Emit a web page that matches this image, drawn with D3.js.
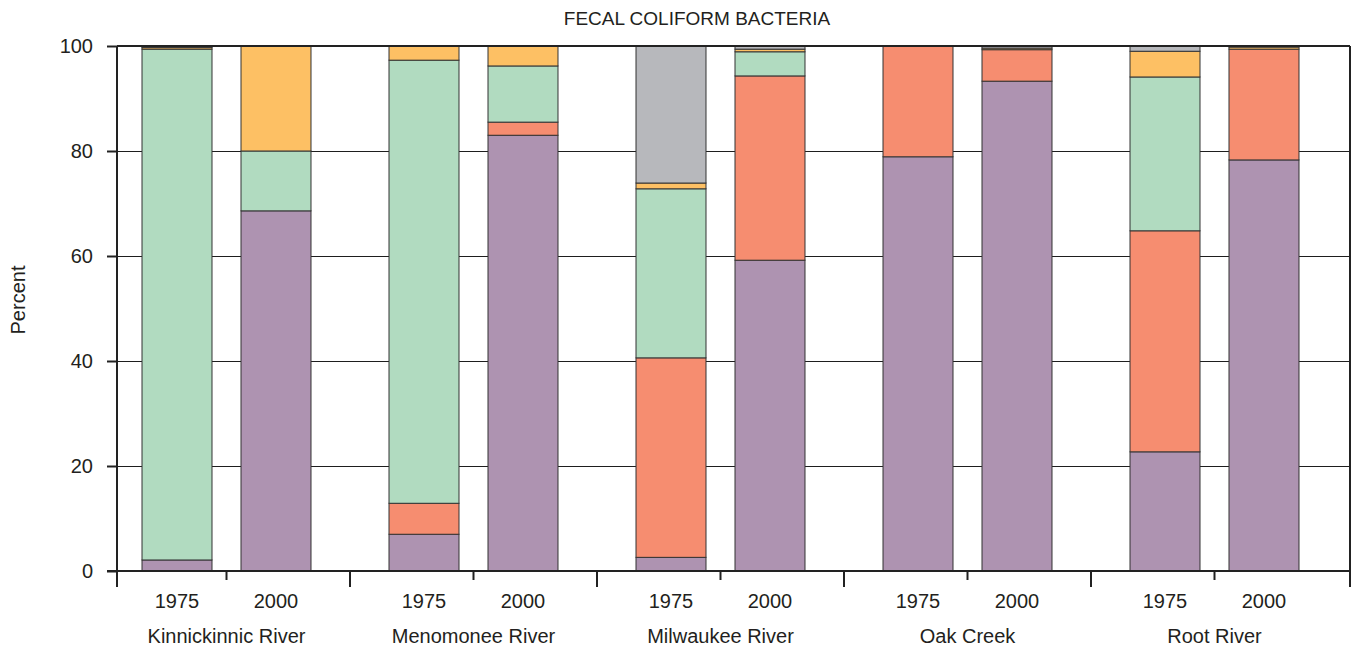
<!DOCTYPE html>
<html>
<head>
<meta charset="utf-8">
<script src="https://cdn.jsdelivr.net/npm/d3@7"></script>
<style>
  html, body { margin: 0; padding: 0; background: #fff; }
  svg { display: block; font-family: "Liberation Sans", Arial, sans-serif; }
</style>
</head>
<body>
<svg id="chart" width="1357" height="650"></svg>
<script>
// Fecal coliform bacteria: share of samples in each count class, by river and year
const rivers = ["Kinnickinnic River", "Menomonee River", "Milwaukee River", "Oak Creek", "Root River"];
const years = ["1975", "2000"];
const yTicks = [0, 20, 40, 60, 80, 100];

// Percent of samples per class, one value per river/year (river-major order)
const classLowest  = [2.1, 68.6, 7.0, 83.0, 2.6, 59.2, 78.9, 93.3, 22.7, 78.3];
const classLow     = [0.0, 0.0, 5.9, 2.5, 38.0, 35.1, 21.1, 6.0, 42.1, 21.1];
const classMiddle  = [97.3, 11.4, 84.4, 10.7, 32.2, 4.6, 0.0, 0.0, 29.3, 0.0];
const classHigh    = [0.3, 20.0, 2.7, 3.8, 1.1, 0.5, 0.0, 0.3, 4.9, 0.4];
const classHighest = [0.3, 0.0, 0.0, 0.0, 26.1, 0.6, 0.0, 0.4, 1.0, 0.2];

const seriesKeys = ["lowest", "low", "middle", "high", "highest"];
const seriesValues = [classLowest, classLow, classMiddle, classHigh, classHighest];
const seriesColors = ["#ae93b1", "#f68d70", "#b1dbc0", "#fdc064", "#b7b8bc"];

const rows = [];
rivers.forEach((r, i) => years.forEach((yr, j) => {
  const row = { river: r, year: yr };
  seriesKeys.forEach((k, s) => { row[k] = seriesValues[s][i * years.length + j]; });
  rows.push(row);
}));

const svg = d3.select("#chart");
const plotLeft = 117, plotRight = 1350, plotTop = 46, plotBottom = 571;
const labelFont = 20;

const y = d3.scaleLinear().domain([0, 100]).range([plotBottom, plotTop]);
const gx = d3.scaleBand().domain(rivers).range([103, 1338]);
const ix = d3.scaleBand().domain(years).range([0, gx.bandwidth()])
  .paddingInner(0.293).paddingOuter(0.394);
const color = d3.scaleOrdinal().domain(seriesKeys).range(seriesColors);

// horizontal grid lines
svg.append("g").attr("shape-rendering", "crispEdges").selectAll("line")
  .data(yTicks.filter(t => t > 0 && t < 100))
  .join("line")
  .attr("x1", plotLeft).attr("x2", plotRight)
  .attr("y1", d => y(d)).attr("y2", d => y(d))
  .attr("stroke", "#1e1e1e").attr("stroke-width", 1);

// stacked bars
const stacked = d3.stack().keys(seriesKeys)(rows);
svg.append("g").selectAll("g")
  .data(stacked)
  .join("g")
  .attr("fill", d => color(d.key))
  .selectAll("rect")
  .data(d => d.filter(p => p[1] - p[0] > 0))
  .join("rect")
  .attr("x", p => gx(p.data.river) + ix(p.data.year))
  .attr("width", ix.bandwidth())
  .attr("y", p => y(p[1]))
  .attr("height", p => y(p[0]) - y(p[1]))
  .attr("stroke", "#333")
  .attr("stroke-width", 1);

// frame
const frame = svg.append("g").attr("stroke", "#222").attr("stroke-width", 2).attr("fill", "none");
frame.append("line").attr("x1", plotLeft).attr("x2", plotRight).attr("y1", plotTop).attr("y2", plotTop);
frame.append("line").attr("x1", plotLeft - 10).attr("x2", plotRight).attr("y1", plotBottom).attr("y2", plotBottom);
frame.append("line").attr("x1", plotLeft).attr("x2", plotLeft).attr("y1", plotTop).attr("y2", plotBottom + 16);
frame.append("line").attr("x1", plotRight).attr("x2", plotRight).attr("y1", plotTop).attr("y2", plotBottom + 16);

// y axis
const yAxis = svg.append("g").attr("transform", `translate(${plotLeft},0)`)
  .call(d3.axisLeft(y).tickValues(yTicks).tickSize(10).tickPadding(14));
yAxis.select(".domain").remove();
yAxis.selectAll(".tick line").attr("stroke", "#222").attr("stroke-width", 2);
yAxis.selectAll(".tick text").attr("font-size", labelFont).attr("fill", "#231f20")
  .attr("font-family", "Liberation Sans, Arial, sans-serif");

// x axis: long ticks between rivers, short ticks between years
const boundaries = rivers.slice(1).map(r => gx(r));
svg.append("g").selectAll("line").data(boundaries).join("line")
  .attr("x1", d => d).attr("x2", d => d)
  .attr("y1", plotBottom).attr("y2", plotBottom + 16)
  .attr("stroke", "#222").attr("stroke-width", 2);
svg.append("g").selectAll("line").data(rivers).join("line")
  .attr("x1", r => gx(r) + gx.bandwidth() / 2).attr("x2", r => gx(r) + gx.bandwidth() / 2)
  .attr("y1", plotBottom).attr("y2", plotBottom + 9)
  .attr("stroke", "#222").attr("stroke-width", 2);

// year labels
svg.append("g").selectAll("text").data(rows).join("text")
  .attr("x", d => gx(d.river) + ix(d.year) + ix.bandwidth() / 2)
  .attr("y", 608)
  .attr("text-anchor", "middle")
  .attr("font-size", labelFont).attr("fill", "#231f20")
  .text(d => d.year);

// river labels
svg.append("g").selectAll("text").data(rivers).join("text")
  .attr("x", r => gx(r) + gx.bandwidth() / 2)
  .attr("y", 643)
  .attr("text-anchor", "middle")
  .attr("font-size", labelFont).attr("fill", "#231f20")
  .text(r => r);

// title
svg.append("text")
  .attr("x", 697).attr("y", 25)
  .attr("text-anchor", "middle")
  .attr("font-size", 19).attr("fill", "#231f20")
  .text("FECAL COLIFORM BACTERIA");

// y label
svg.append("text")
  .attr("transform", "translate(25,300) rotate(-90)")
  .attr("text-anchor", "middle")
  .attr("font-size", labelFont).attr("fill", "#231f20")
  .text("Percent");
</script>
</body>
</html>
